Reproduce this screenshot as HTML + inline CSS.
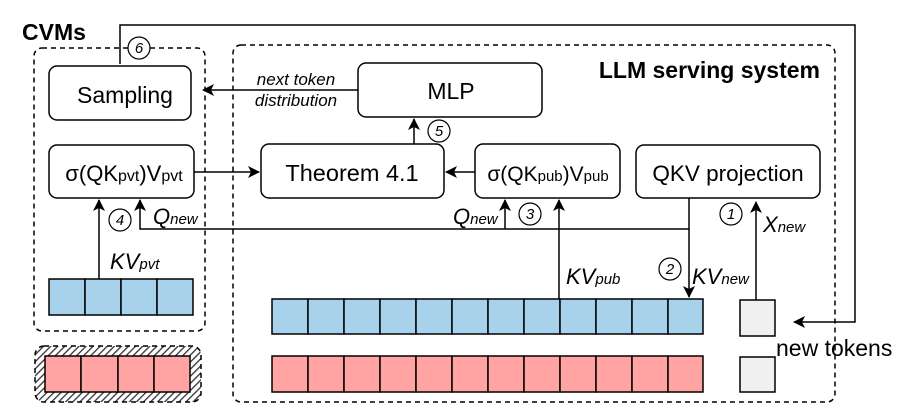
<!DOCTYPE html>
<html><head><meta charset="utf-8"><style>
html,body{margin:0;padding:0;background:#fff;}
svg{display:block;font-family:"Liberation Sans",Arial,sans-serif;}
</style></head><body>
<svg width="900" height="420" viewBox="0 0 900 420" xmlns="http://www.w3.org/2000/svg">
<defs>
<marker id="ah" markerWidth="12" markerHeight="12" refX="11" refY="6" orient="auto" markerUnits="userSpaceOnUse">
<path d="M0,0 L12,6 L0,12 L3,6 z" fill="#000"/></marker>
<pattern id="hatch" width="5" height="5" patternUnits="userSpaceOnUse" patternTransform="rotate(45)">
<rect width="5" height="5" fill="#fff"/><rect width="1.3" height="5" fill="#333"/></pattern>
</defs>
<g stroke="#000" stroke-width="1.5" fill="none">
<rect x="34" y="48" width="171" height="283" rx="8" stroke-dasharray="5,4"/>
<rect x="233" y="45" width="602" height="357" rx="8" stroke-dasharray="5,4"/>
<rect x="35" y="346" width="166" height="56" rx="9" fill="url(#hatch)" stroke-dasharray="5,4"/>
<rect x="49" y="66" width="142" height="54" rx="8" fill="#fff"/>
<rect x="49" y="145" width="145" height="53" rx="8" fill="#fff"/>
<rect x="261" y="144" width="183" height="54" rx="8" fill="#fff"/>
<rect x="358" y="63" width="184" height="54" rx="8" fill="#fff"/>
<rect x="475" y="144" width="145" height="54" rx="8" fill="#fff"/>
<rect x="636" y="145" width="184" height="53" rx="8" fill="#fff"/>
<polyline points="120,64 120,25 855,25 855,322 794,322" marker-end="url(#ah)"/>
<line x1="358" y1="90" x2="203" y2="90" marker-end="url(#ah)"/>
<line x1="194" y1="172" x2="259" y2="172" marker-end="url(#ah)"/>
<line x1="414" y1="144" x2="414" y2="119" marker-end="url(#ah)"/>
<line x1="475" y1="172" x2="446" y2="172" marker-end="url(#ah)"/>
<polyline points="689,198 689,229 140,229 140,200" marker-end="url(#ah)"/>
<line x1="505" y1="229" x2="505" y2="200" marker-end="url(#ah)"/>
<line x1="99" y1="279" x2="99" y2="200" marker-end="url(#ah)"/>
<line x1="559" y1="299" x2="559" y2="200" marker-end="url(#ah)"/>
<line x1="689" y1="229" x2="689" y2="297" marker-end="url(#ah)"/>
<line x1="756" y1="300" x2="756" y2="202" marker-end="url(#ah)"/>
<g fill="#fff" stroke-width="1.2">
<circle cx="139" cy="48" r="11"/><circle cx="439" cy="131" r="11"/>
<circle cx="120" cy="220" r="11"/><circle cx="530" cy="214" r="11"/>
<circle cx="670" cy="269" r="11"/><circle cx="731" cy="214" r="11"/>
</g>
</g>
<g stroke="#000" stroke-width="1.5">
<g fill="#a8d1ec">
<rect x="49" y="279" width="36" height="36"/><rect x="85" y="279" width="36" height="36"/><rect x="121" y="279" width="36" height="36"/><rect x="157" y="279" width="36" height="36"/>
</g>
<g fill="#ffa3a3">
<rect x="45" y="356" width="36" height="36"/><rect x="81" y="356" width="37" height="36"/><rect x="118" y="356" width="36" height="36"/><rect x="154" y="356" width="36" height="36"/>
</g>
<g fill="#a8d1ec">
<rect x="272" y="299" width="36" height="35"/><rect x="308" y="299" width="36" height="35"/><rect x="344" y="299" width="36" height="35"/><rect x="380" y="299" width="36" height="35"/><rect x="416" y="299" width="36" height="35"/><rect x="452" y="299" width="36" height="35"/><rect x="488" y="299" width="36" height="35"/><rect x="524" y="299" width="36" height="35"/><rect x="560" y="299" width="36" height="35"/><rect x="596" y="299" width="36" height="35"/><rect x="632" y="299" width="36" height="35"/><rect x="668" y="299" width="35" height="35"/>
</g>
<g fill="#ffa3a3">
<rect x="272" y="356" width="36" height="36"/><rect x="308" y="356" width="36" height="36"/><rect x="344" y="356" width="36" height="36"/><rect x="380" y="356" width="36" height="36"/><rect x="416" y="356" width="36" height="36"/><rect x="452" y="356" width="36" height="36"/><rect x="488" y="356" width="36" height="36"/><rect x="524" y="356" width="36" height="36"/><rect x="560" y="356" width="36" height="36"/><rect x="596" y="356" width="36" height="36"/><rect x="632" y="356" width="36" height="36"/><rect x="668" y="356" width="35" height="36"/>
</g>
<rect x="740" y="300" width="35" height="36" fill="#f0f0f0"/>
<rect x="740" y="357" width="35" height="35" fill="#f0f0f0"/>
</g>
<g fill="#000">
<text x="22" y="40" font-size="23" font-weight="bold">CVMs</text>
<text x="820" y="78" font-size="23" font-weight="bold" text-anchor="end">LLM serving system</text>
<text x="125" y="103" font-size="23" text-anchor="middle">Sampling</text>
<text x="124" y="181" font-size="22" text-anchor="middle">σ(QK<tspan font-size="16">pvt</tspan>)V<tspan font-size="16">pvt</tspan></text>
<text x="352" y="181" font-size="23.5" text-anchor="middle">Theorem 4.1</text>
<text x="451" y="99" font-size="23" text-anchor="middle">MLP</text>
<text x="548" y="181" font-size="21" text-anchor="middle">σ(QK<tspan font-size="15">pub</tspan>)V<tspan font-size="15">pub</tspan></text>
<text x="728" y="181" font-size="22.5" text-anchor="middle">QKV projection</text>
<text x="296" y="85" font-size="17" font-style="italic" text-anchor="middle">next token</text>
<text x="296" y="106" font-size="17" font-style="italic" text-anchor="middle">distribution</text>
<g font-size="15" font-style="italic" text-anchor="middle">
<text x="139" y="53">6</text><text x="439" y="136">5</text><text x="120" y="225">4</text>
<text x="530" y="219">3</text><text x="670" y="274">2</text><text x="731" y="219">1</text>
</g>
<g font-size="22" font-style="italic">
<text x="153" y="224">Q<tspan font-size="15">new</tspan></text>
<text x="453" y="224">Q<tspan font-size="15">new</tspan></text>
<text x="110" y="269">KV<tspan font-size="15">pvt</tspan></text>
<text x="566" y="284">KV<tspan font-size="15">pub</tspan></text>
<text x="692" y="284">KV<tspan font-size="15">new</tspan></text>
<text x="763" y="232">X<tspan font-size="15">new</tspan></text>
</g>
<text x="776" y="356" font-size="23">new tokens</text>
</g>
</svg>
</body></html>
